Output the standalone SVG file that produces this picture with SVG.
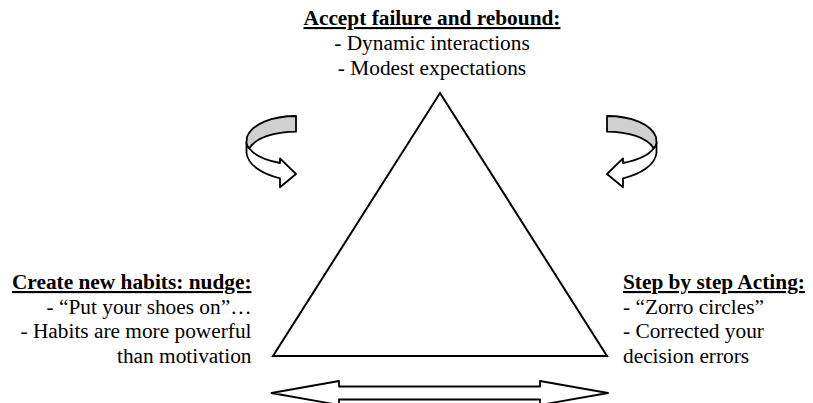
<svg xmlns="http://www.w3.org/2000/svg" width="813" height="403" viewBox="0 0 813 403">
<style>
text{font-family:'Liberation Serif','Times New Roman',Times,serif;font-size:21.33px;fill:#000}
.h{font-weight:bold;text-decoration:underline}
.s{fill:none;stroke:#000;stroke-width:2;stroke-linejoin:miter}
.w{fill:#fff;stroke:#000;stroke-width:1.8;stroke-linejoin:round}
.g{fill:#d0d0d0;stroke:#000;stroke-width:1.8;stroke-linejoin:round}
</style>
<defs>
<g id="curl">
<path class="w" d="M249.3,148.3 C254,155 264,160 280,163 L280,158.3 L296,174 L280,187.3 L280,178.3 C262,174 248,165 246.5,153 L246.5,142 Z"/>
<path class="g" d="M296,116 C272,116 252,124 247,137 L246.5,143 C247,145.5 248,147.5 249.3,148.3 C256,137 275,132 296,131.7 Z"/>
</g>
</defs>
<rect width="813" height="403" fill="#fff"/>
<g id="triangle">
<path class="s" d="M440,93 L607,356 L273,356 Z"/>
</g>
<g id="top" font-family="Liberation Serif, serif">
<text class="h" x="432" y="25" text-anchor="middle">Accept failure and rebound:</text>
<text x="432" y="50" text-anchor="middle">- Dynamic interactions</text>
<text x="432" y="75" text-anchor="middle">- Modest expectations</text>
</g>
<g id="left" font-family="Liberation Serif, serif">
<text class="h" x="251.5" y="289" text-anchor="end">Create new habits: nudge:</text>
<text x="251.5" y="313.5" text-anchor="end">- “Put your shoes on”…</text>
<text x="251.5" y="338" text-anchor="end">- Habits are more powerful</text>
<text x="251.5" y="362.5" text-anchor="end">than motivation</text>
</g>
<g id="right" font-family="Liberation Serif, serif">
<text class="h" x="623" y="289">Step by step Acting:</text>
<text x="623" y="313.5">- “Zorro circles”</text>
<text x="623" y="338">- Corrected your</text>
<text x="623" y="362.5">decision errors</text>
</g>
<g id="connectors">
<use href="#curl"/>
<use href="#curl" transform="translate(903,0) scale(-1,1)"/>
<path class="w" d="M271.5,393 L339,381 L339,386.5 L540,386.5 L540,381 L608,393 L540,405 L540,399.5 L339,399.5 L339,405 Z"/>
</g>
</svg>
